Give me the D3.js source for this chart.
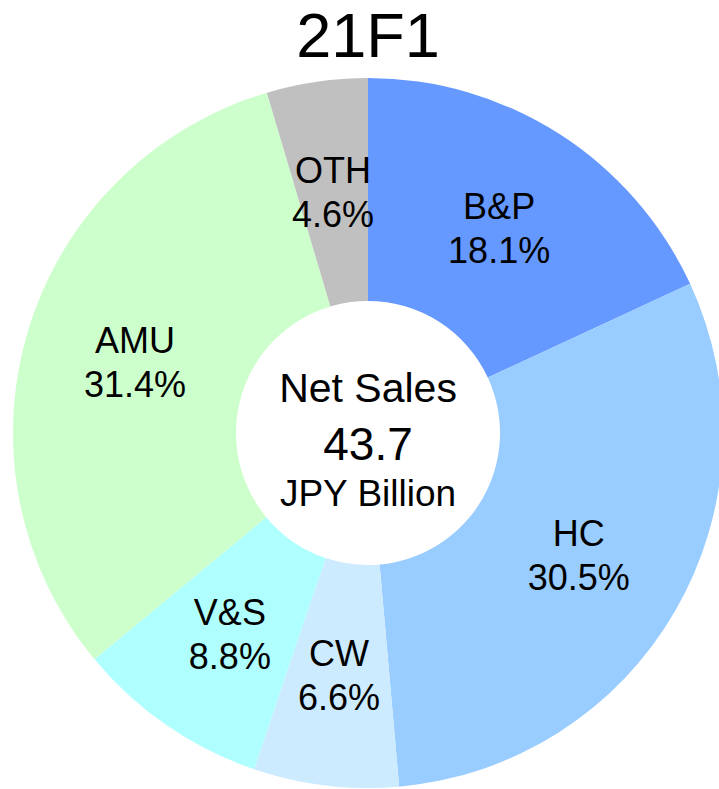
<!DOCTYPE html>
<html>
<head>
<meta charset="utf-8">
<script src="https://cdn.jsdelivr.net/npm/d3@7"></script>
<style>
  body { margin: 0; background: #fff; }
  svg text { font-family: "Liberation Sans", Arial, sans-serif; fill: #000; }
</style>
</head>
<body>
<svg width="719" height="789"></svg>
<script>
const segments = ['B&P', 'HC', 'CW', 'V&S', 'AMU', 'OTH'];
const shares = [18.1, 30.5, 6.6, 8.8, 31.4, 4.6];
const colors = ['#6699FF', '#99CCFF', '#CCEBFF', '#B0FFFF', '#CCFFCC', '#C0C0C0'];
const title = '21F1';
const centerLines = ['Net Sales', '43.7', 'JPY Billion'];

const svg = d3.select('svg');
const cx = 368, cy = 433;
const outerR = 355, innerR = 132;

const data = segments.map((name, i) => ({ name, value: shares[i], color: colors[i] }));

const pie = d3.pie()
	.sort(null)
	.value(d => d.value);

const arc = d3.arc()
	.innerRadius(innerR)
	.outerRadius(outerR);

svg.append('text')
	.attr('x', cx)
	.attr('y', 57)
	.attr('text-anchor', 'middle')
	.attr('font-size', 63)
	.text(title);

const g = svg.append('g')
	.attr('transform', `translate(${cx},${cy})`);

g.selectAll('path').data(pie(data))
	.enter().append('path')
		.attr('d', arc)
		.attr('fill', d => d.data.color);

const labels = g.selectAll('.lbl').data(pie(data))
	.enter().append('text')
		.attr('class', 'lbl')
		.attr('text-anchor', 'middle')
		.attr('font-size', 36)
		.attr('transform', d => `translate(${arc.centroid(d)})`);

labels.append('tspan')
	.attr('x', 0)
	.attr('y', -9)
	.text(d => d.data.name);

labels.append('tspan')
	.attr('x', 0)
	.attr('y', 35)
	.text(d => d.data.value.toFixed(1) + '%');

// center text
const centerSizes = [41, 46, 37];
const centerY = [-31, 27, 73];
g.selectAll('.ctr').data(centerLines)
	.enter().append('text')
		.attr('class', 'ctr')
		.attr('text-anchor', 'middle')
		.attr('y', (d, i) => centerY[i])
		.attr('font-size', (d, i) => centerSizes[i])
		.text(d => d);
</script>
</body>
</html>
